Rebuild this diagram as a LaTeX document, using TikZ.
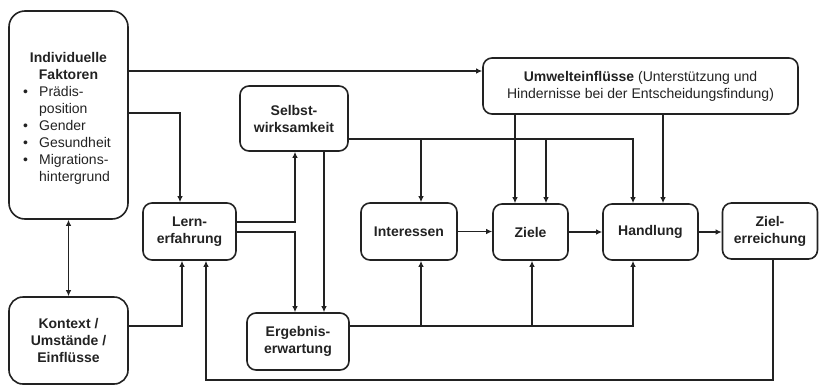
\documentclass[tikz,border=0pt]{standalone}
\usepackage{fontspec}
\setmainfont{Liberation Sans}
\usetikzlibrary{arrows.meta}
\definecolor{ink}{HTML}{222222}
\begin{document}
\begin{tikzpicture}[x=1pt,y=-1pt,
  box/.style={draw=ink, line width=1.6pt, rounded corners=9pt, inner sep=0pt, align=center,
    font=\fontsize{14}{17}\selectfont\bfseries, text=ink},
  txt/.style={inner sep=0pt, text=ink, font=\fontsize{14}{17}\selectfont},
  arr/.style={draw=ink, line width=1.3pt, -{Latex[length=6pt,width=5.5pt]}},
  arrboth/.style={draw=ink, line width=1.3pt, {Latex[length=6pt,width=5.5pt]}-{Latex[length=6pt,width=5.5pt]}}]
\useasboundingbox (0,0) rectangle (819,386);

% boxes
\node[box, minimum width=119pt, minimum height=208pt, rounded corners=16pt] (ind) at (68.5,115) {};
\node[txt, font=\fontsize{14}{17}\selectfont\bfseries, align=center] (indhead) at (68.5,65.5) {Individuelle\\Faktoren};
\node[txt, anchor=north west] (indlist) at (23,84) {%
  \begin{tabular}{@{}p{16pt}@{}l@{}}
  \textbullet & Prädis-\\
              & position\\
  \textbullet & Gender\\
  \textbullet & Gesundheit\\
  \textbullet & Migrations-\\
              & hintergrund
  \end{tabular}};
\node[box, minimum width=119pt, minimum height=87pt, rounded corners=14pt] (kon) at (68.5,340.5) {Kontext /\\Umstände /\\Einflüsse};
\node[box, minimum width=93pt, minimum height=57pt] (lern) at (189.5,231.5) {Lern-\\erfahrung};
\node[box, minimum width=108pt, minimum height=65pt] (selb) at (294,118.5) {Selbst-\\wirksamkeit};
\node[box, minimum width=102pt, minimum height=57pt] (erg) at (298,341.5) {Ergebnis-\\erwartung};
\node[box, minimum width=315pt, minimum height=56pt, font=\fontsize{14}{17}\selectfont] (umw) at (640.5,86)
  {\textbf{Umwelteinflüsse} (Unterstützung und\\Hindernisse bei der Entscheidungsfindung)};
\node[box, minimum width=96pt, minimum height=57pt] (int) at (409,231.5) {Interessen};
\node[box, minimum width=75pt, minimum height=56pt] (zie) at (530.5,232) {Ziele};
\node[box, minimum width=95pt, minimum height=56pt] (han) at (650.5,232) {Handlung};
\node[box, minimum width=95pt, minimum height=56pt] (zer) at (770,231) {Ziel-\\erreichung};

% helper coordinates
\coordinate (t) at (0,71);
\coordinate (a1) at (180,113);
\coordinate (k1) at (182,326);
\coordinate (l1) at (295,222);
\coordinate (l2) at (295,232);
\coordinate (s1) at (324,0);
\coordinate (s2) at (633,139);
\coordinate (s3) at (421,139);
\coordinate (s4) at (546,139);
\coordinate (u1) at (515,0);
\coordinate (u2) at (663,0);
\coordinate (e1) at (633,326);
\coordinate (e2) at (421,326);
\coordinate (e3) at (532,326);
\coordinate (f1) at (773,380);
\coordinate (f2) at (206,380);

% connectors
\draw[arr] (ind.east |- t) -- (umw.west |- t);
\draw[arr] (ind.east |- a1) -- (a1) -- (a1 |- lern.north);
\draw[arrboth] (ind) -- (kon);
\draw[arr] (kon.east |- k1) -- (k1) -- (k1 |- lern.south);
\draw[arr] (lern.east |- l1) -- (l1) -- (l1 |- selb.south);
\draw[arr] (lern.east |- l2) -- (l2) -- (l2 |- erg.north);
\draw[arr] (selb.south -| s1) -- (erg.north -| s1);
\draw[arr] (selb.east |- s2) -- (s2) -- (s2 |- han.north);
\draw[arr] (s3) -- (s3 |- int.north);
\draw[arr] (s4) -- (s4 |- zie.north);
\draw[arr] (umw.south -| u1) -- (zie.north -| u1);
\draw[arr] (umw.south -| u2) -- (han.north -| u2);
\draw[arr] (int.east) -- (zie.west |- int.east);
\draw[arr] (zie.east) -- (han.west);
\draw[arr] (han.east) -- (zer.west |- han.east);
\draw[arr] (erg.east |- e1) -- (e1) -- (e1 |- han.south);
\draw[arr] (e2) -- (e2 |- int.south);
\draw[arr] (e3) -- (e3 |- zie.south);
\draw[arr] (zer.south -| f1) -- (f1) -- (f2) -- (f2 |- lern.south);
\end{tikzpicture}
\end{document}
